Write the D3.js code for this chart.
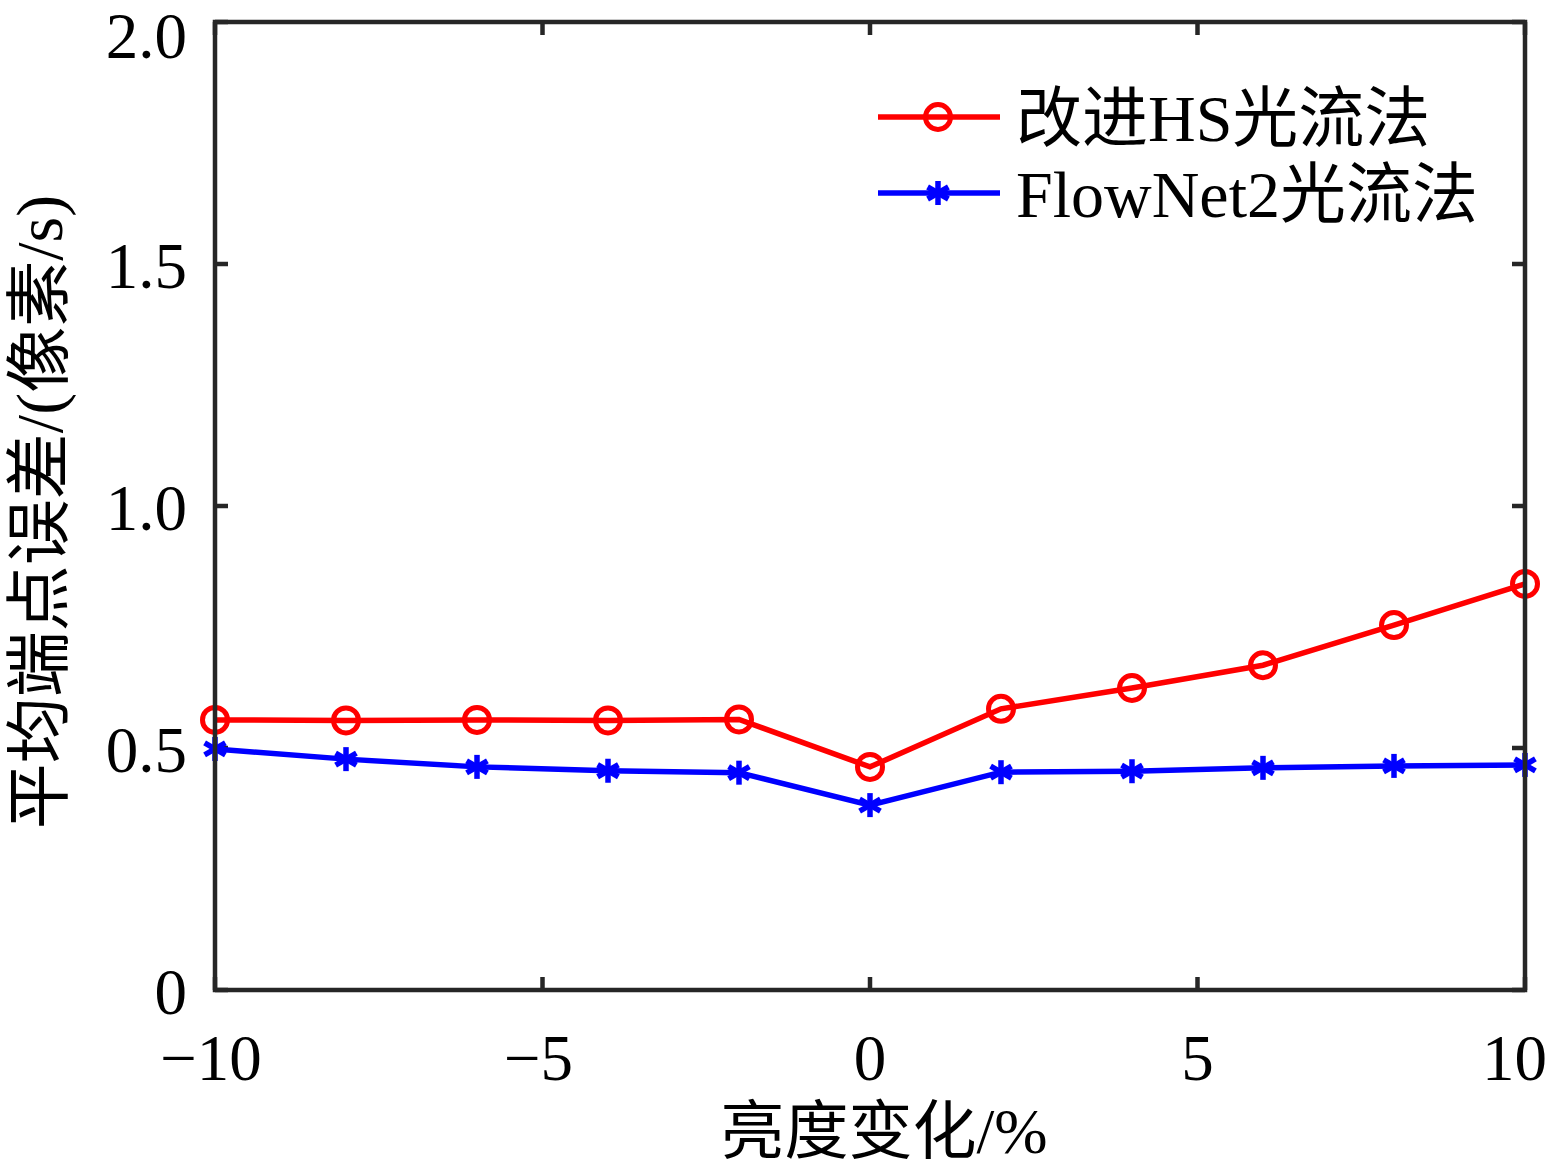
<!DOCTYPE html>
<html><head><meta charset="utf-8">
<script src="https://cdn.jsdelivr.net/npm/d3@7"></script>
<style>body{margin:0;background:#fff}svg{display:block}</style>
</head><body>
<script>
const xValues = [-10, -8, -6, -4, -2, 0, 2, 4, 6, 8, 10];
const hsValues = [0.558, 0.557, 0.558, 0.557, 0.559, 0.461, 0.581, 0.624, 0.671, 0.754, 0.839];
const flowValues = [0.498, 0.477, 0.461, 0.453, 0.449, 0.382, 0.450, 0.452, 0.459, 0.463, 0.465];
const xTicks = [-10, -5, 0, 5, 10];
const yTicks = [0, 0.5, 1.0, 1.5, 2.0];
const yTickLabels = ["0", "0.5", "1.0", "1.5", "2.0"];
const seriesNames = ["改进HS光流法", "FlowNet2光流法"];
const xLabel = "亮度变化/%";
const yLabel = "平均端点误差/(像素/s)";

const W = 1549, H = 1167;
const m = {l: 215, r: 24, t: 22, b: 177};
const svg = d3.select("body").append("svg").attr("width", W).attr("height", H);
const x = d3.scaleLinear().domain([-10, 10]).range([m.l, W - m.r]);
const y = d3.scaleLinear().domain([0, 2]).range([H - m.b, m.t]);
const font = "'Liberation Serif','Times New Roman','Noto Sans CJK SC',serif";
const axisColor = "#262626";
const tickLen = 13;
const axisW = 4.5;

// ticks inward on all sides
const g = svg.append("g");
xTicks.forEach(t => {
  g.append("line").attr("x1", x(t)).attr("x2", x(t)).attr("y1", y(0)).attr("y2", y(0) - tickLen).attr("stroke", axisColor).attr("stroke-width", axisW);
  g.append("line").attr("x1", x(t)).attr("x2", x(t)).attr("y1", y(2)).attr("y2", y(2) + tickLen).attr("stroke", axisColor).attr("stroke-width", axisW);
});
yTicks.forEach(t => {
  g.append("line").attr("x1", x(-10)).attr("x2", x(-10) + tickLen).attr("y1", y(t)).attr("y2", y(t)).attr("stroke", axisColor).attr("stroke-width", axisW);
  g.append("line").attr("x1", x(10)).attr("x2", x(10) - tickLen).attr("y1", y(t)).attr("y2", y(t)).attr("stroke", axisColor).attr("stroke-width", axisW);
});

// tick labels
xTicks.forEach((t, i) => {
  const last = i === xTicks.length - 1;
  g.append("text").attr("x", last ? W - 2 : x(t) + (t < 0 ? -4 : 0)).attr("y", y(0) + 90)
    .attr("text-anchor", last ? "end" : "middle")
    .attr("font-family", font).attr("font-size", 65).attr("fill", "#000")
    .text(t < 0 ? "\u2212" + Math.abs(t) : String(t));
});
yTicks.forEach((t, i) => {
  const top = i === yTicks.length - 1;
  g.append("text").attr("x", x(-10) - 28).attr("y", y(t) + (top ? 36 : 24)).attr("text-anchor", "end")
    .attr("font-family", font).attr("font-size", 65).attr("fill", "#000").text(yTickLabels[i]);
});

// axis labels
svg.append("text").attr("x", x(0) + 14).attr("y", H - 14).attr("text-anchor", "middle")
  .attr("font-family", font).attr("font-size", 64).attr("fill", "#000").text(xLabel);
svg.append("text").attr("transform", `translate(62,${(y(0)+y(2))/2 + 6}) rotate(-90)`).attr("text-anchor", "middle")
  .attr("font-family", font).attr("font-size", 66).attr("fill", "#000").text(yLabel);

// series
const line = d3.line().x(d => x(d[0])).y(d => y(d[1]));
const hs = xValues.map((v, i) => [v, hsValues[i]]);
const fl = xValues.map((v, i) => [v, flowValues[i]]);
const red = "#ff0000", blue = "#0000ff";

svg.append("path").datum(hs).attr("d", line).attr("fill", "none").attr("stroke", red).attr("stroke-width", 5.5);
svg.append("path").datum(fl).attr("d", line).attr("fill", "none").attr("stroke", blue).attr("stroke-width", 5.5);

function circleMarker(sel, cx, cy) {
  sel.append("circle").attr("cx", cx).attr("cy", cy).attr("r", 12.5)
    .attr("fill", "none").attr("stroke", red).attr("stroke-width", 5);
}
function starMarker(sel, cx, cy) {
  const r = 12;
  const gs = sel.append("g").attr("stroke", blue).attr("stroke-width", 5.5).attr("stroke-linecap", "butt");
  [0, 60, 120].forEach(a => {
    const rad = a * Math.PI / 180;
    const dx = Math.sin(rad) * r, dy = Math.cos(rad) * r;
    gs.append("line").attr("x1", cx - dx).attr("y1", cy - dy).attr("x2", cx + dx).attr("y2", cy + dy);
  });
}
hs.forEach(d => circleMarker(svg, x(d[0]), y(d[1])));
fl.forEach(d => starMarker(svg, x(d[0]), y(d[1])));

// box
svg.append("rect").attr("x", x(-10)).attr("y", y(2)).attr("width", x(10) - x(-10)).attr("height", y(0) - y(2))
  .attr("fill", "none").attr("stroke", axisColor).attr("stroke-width", axisW);

// legend
const leg = svg.append("g");
const ly = [117, 193];
[red, blue].forEach((c, i) => {
  leg.append("line").attr("x1", 878).attr("x2", 1000).attr("y1", ly[i]).attr("y2", ly[i]).attr("stroke", c).attr("stroke-width", 5.5);
  if (i === 0) circleMarker(leg, 938, ly[i]); else starMarker(leg, 938, ly[i]);
  leg.append("text").attr("x", 1016).attr("y", ly[i] + 24).attr("font-family", font).attr("font-size", 66)
    .attr("fill", "#000").text(seriesNames[i]);
});
</script>
</body></html>
